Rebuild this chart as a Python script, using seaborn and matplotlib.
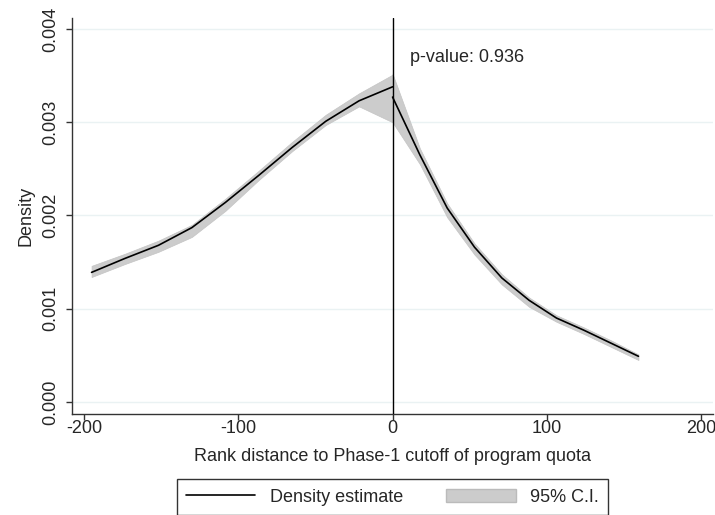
import numpy as np
import pandas as pd
import matplotlib
matplotlib.use("Agg")
import matplotlib.pyplot as plt
import seaborn as sns
from matplotlib.lines import Line2D
from matplotlib.patches import Patch

# density estimates left of the cutoff
x_left = [-195, -173.3, -151.7, -130, -108.3, -86.7, -65, -43.3, -21.7, 0]
dens_left = [0.00139, 0.00154, 0.00168, 0.00187, 0.00214, 0.00243, 0.00273, 0.00301, 0.00323, 0.00338]
lo_left = [0.00134, 0.00148, 0.00161, 0.00177, 0.00205, 0.00238, 0.00269, 0.00297, 0.00317, 0.00300]
hi_left = [0.00146, 0.00159, 0.00173, 0.00190, 0.00218, 0.00248, 0.00279, 0.00308, 0.00331, 0.00351]

# density estimates right of the cutoff
x_right = [0, 17.7, 35.4, 53.1, 70.8, 88.5, 106.2, 123.9, 141.6, 159.3]
dens_right = [0.00327, 0.00265, 0.00208, 0.00166, 0.00133, 0.00109, 0.00090, 0.00077, 0.00063, 0.00049]
lo_right = [0.00300, 0.00255, 0.00198, 0.00158, 0.00126, 0.00102, 0.00086, 0.00073, 0.00059, 0.00045]
hi_right = [0.00352, 0.00272, 0.00213, 0.00170, 0.00137, 0.00112, 0.00093, 0.00080, 0.00066, 0.00051]

p_value = "p-value: 0.936"
x_ticks = [-200, -100, 0, 100, 200]
y_ticks = [0.000, 0.001, 0.002, 0.003, 0.004]

sns.set_style("white")
plt.rcParams["font.family"] = ["Liberation Sans", "DejaVu Sans"]
plt.rcParams["axes.unicode_minus"] = False
fs = 13

left = pd.DataFrame({"x": x_left, "d": dens_left})
right = pd.DataFrame({"x": x_right, "d": dens_right})

fig = plt.figure(figsize=(7.15, 5.15), dpi=100)
ax = fig.add_axes([71.5 / 715, 1 - 414 / 515, 641.5 / 715, 396 / 515])

band = "#cccccc"
ax.fill_between(x_left, lo_left, hi_left, color=band, edgecolor="#c4c4c4", lw=0.5, zorder=2)
ax.fill_between(x_right, lo_right, hi_right, color=band, edgecolor="#c4c4c4", lw=0.5, zorder=2)
sns.lineplot(data=left, x="x", y="d", color="black", lw=1.2, ax=ax, zorder=3)
sns.lineplot(data=right, x="x", y="d", color="black", lw=1.2, ax=ax, zorder=3)
ax.axvline(0, color="black", lw=1.0, zorder=4)

ax.text(11, 0.003697, p_value, ha="left", va="center", fontsize=fs)

ax.set_xlim(-208, 207.6)
ax.set_ylim(-0.000129, 0.004118)
ax.set_xticks(x_ticks)
ax.set_yticks(y_ticks)
ax.set_yticklabels([f"{v:.3f}" for v in y_ticks], rotation=90, va="center")
ax.grid(axis="y", color="#eaf2f3", lw=1.0, zorder=0)
ax.grid(axis="x", visible=False)
for s in ["top", "right"]:
    ax.spines[s].set_visible(False)
for s in ["left", "bottom"]:
    ax.spines[s].set_color("#333333")
    ax.spines[s].set_linewidth(1.0)
ax.tick_params(axis="both", direction="out", length=4.5, width=1, color="#333333",
               labelsize=fs, bottom=True, left=True)
ax.tick_params(axis="x", pad=0)
ax.tick_params(axis="y", pad=4)
ax.set_xlabel("Rank distance to Phase-1 cutoff of program quota", fontsize=fs, labelpad=8)
ax.set_ylabel("Density", fontsize=fs, labelpad=6)

handles = [Line2D([], [], color="black", lw=1.2),
           Patch(facecolor=band, edgecolor="#bbbbbb")]
leg = fig.legend(handles, ["Density estimate", "95% C.I."], loc="center",
                 bbox_to_anchor=(392.5 / 715, 1 - 497 / 515), ncol=2, fancybox=False,
                 edgecolor="#333333", framealpha=1, fontsize=fs, handlelength=3.85,
                 handleheight=0.7, handletextpad=0.8, columnspacing=2.4,
                 borderpad=0.5)
leg.get_frame().set_linewidth(1.0)

fig.savefig("out.png", dpi=100)
